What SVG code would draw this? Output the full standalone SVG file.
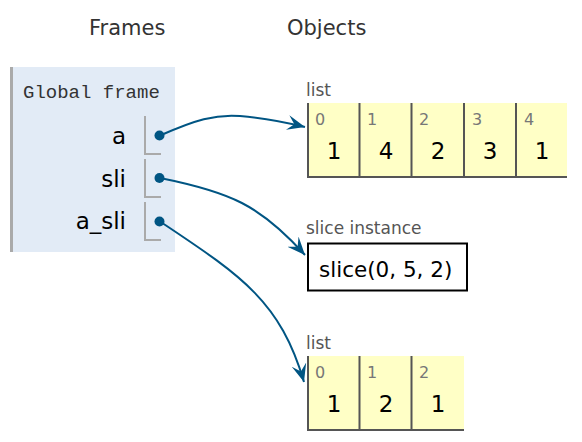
<svg xmlns="http://www.w3.org/2000/svg" width="582" height="442" viewBox="0 0 582 442">
<style>
.hdr{font-family:"DejaVu Sans",Verdana,sans-serif;font-size:21px;fill:#333}
.fname{font-family:"Liberation Mono","DejaVu Sans Mono",monospace;font-size:19px;fill:#333}
.var{font-family:"DejaVu Sans",Verdana,sans-serif;font-size:23px;fill:#000;text-anchor:end}
.vbox{fill:none;stroke:#aaa;stroke-width:2}
.dot{fill:#005583}
.lbl{font-family:"DejaVu Sans",Verdana,sans-serif;font-size:17px;fill:#555}
.cell{fill:#ffffc6}
.bd{stroke:#555;stroke-width:2;fill:none}
.idx{font-family:"DejaVu Sans",Verdana,sans-serif;font-size:16px;fill:#777}
.val{font-family:"DejaVu Sans",Verdana,sans-serif;font-size:23px;fill:#000;text-anchor:middle}
.edge{fill:none;stroke:#005583;stroke-width:2}
</style>
<defs>
<marker id="ah" viewBox="-18 -8 19 16" refX="0" refY="0" markerWidth="19" markerHeight="16" markerUnits="userSpaceOnUse" orient="auto">
<path d="M0,0 L-18,-7.5 L-11,0 L-18,7.5 Z" fill="#005583"/>
</marker>
</defs>
<rect width="582" height="442" fill="#fff"/>
<text class="hdr" x="89" y="35">Frames</text>
<text class="hdr" x="287" y="35">Objects</text>

<g id="global-frame">
<rect x="10" y="67" width="165" height="185" fill="#e2ebf6"/>
<rect x="10" y="67" width="3" height="185" fill="#aaa"/>
<text class="fname" x="23" y="98">Global frame</text>
</g>
<g id="var-a">
<text class="var" x="126" y="144">a</text>
<path class="vbox" d="M145,116 V154 H161"/>
<circle class="dot" cx="159.5" cy="135.5" r="5"/>
</g>
<g id="var-sli">
<text class="var" x="126" y="187">sli</text>
<path class="vbox" d="M145,159 V197 H161"/>
<circle class="dot" cx="159.5" cy="178" r="5"/>
</g>
<g id="var-a_sli">
<text class="var" x="126" y="229">a_sli</text>
<path class="vbox" d="M145,202 V240 H161"/>
<circle class="dot" cx="159.5" cy="221.5" r="5"/>
</g>

<g id="list1">
<text class="lbl" x="306" y="96">list</text>
<rect class="cell" x="307" y="103" width="260" height="74"/>
<path class="bd" d="M308,103 V177 H567 M359.5,103 V177 M411.5,103 V177 M464,103 V177 M516,103 V177"/>
<text class="idx" x="315" y="125">0</text>
<text class="idx" x="367" y="125">1</text>
<text class="idx" x="419" y="125">2</text>
<text class="idx" x="472" y="125">3</text>
<text class="idx" x="524" y="125">4</text>
<text class="val" x="334" y="159">1</text>
<text class="val" x="386" y="159">4</text>
<text class="val" x="438" y="159">2</text>
<text class="val" x="490" y="159">3</text>
<text class="val" x="542" y="159">1</text>
</g>

<g id="slice">
<text class="lbl" x="306" y="234">slice instance</text>
<rect x="308" y="243.5" width="159" height="47" fill="#fff" stroke="#000" stroke-width="2"/>
<text x="319" y="277" font-family="DejaVu Sans, Verdana, sans-serif" font-size="21.5" fill="#000">slice(0, 5, 2)</text>
</g>

<g id="list2">
<text class="lbl" x="306" y="349">list</text>
<rect class="cell" x="307" y="356" width="157" height="74"/>
<path class="bd" d="M308,356 V430 H464 M359.5,356 V430 M411.5,356 V430"/>
<text class="idx" x="315" y="378">0</text>
<text class="idx" x="367" y="378">1</text>
<text class="idx" x="419" y="378">2</text>
<text class="val" x="334" y="412">1</text>
<text class="val" x="386" y="412">2</text>
<text class="val" x="438" y="412">1</text>
</g>

<g id="connectors">
<path class="edge" marker-end="url(#ah)" d="M160,135.5 C195,120 215,114 240,116 C265,118 285,122 305,127"/>
<path class="edge" marker-end="url(#ah)" d="M160,178 C230,192 260,205 305,255"/>
<path class="edge" marker-end="url(#ah)" d="M160,221.5 C240,275 280,300 304,382"/>
</g>
</svg>
